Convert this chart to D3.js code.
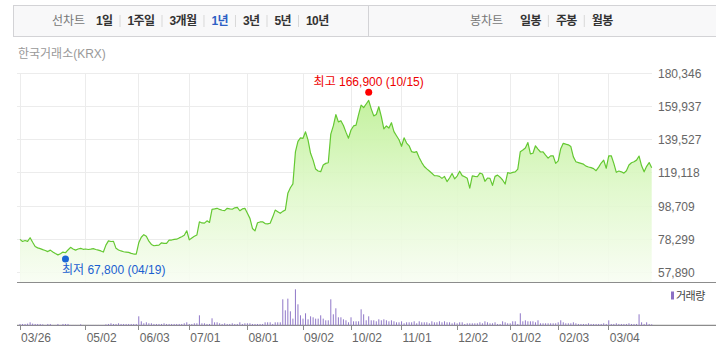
<!DOCTYPE html>
<html><head><meta charset="utf-8">
<script src="https://cdn.jsdelivr.net/npm/d3@7"></script>
<style>
body{margin:0;background:#fff;}
svg{display:block;font-family:"Liberation Sans","Noto Sans CJK KR",sans-serif;}
</style></head><body>
<svg id="c" width="716" height="360"></svg>
<script>
// ---- data ----
const closePrices = [
78300,77000,77600,77100,79300,76500,73900,73100,72600,72000,
71500,70800,71700,70600,69600,68800,69500,70500,70100,71800,
73400,72400,71700,72400,72800,72200,72400,72100,72300,72600,
72100,71700,71200,70500,74800,77400,77000,77100,72800,71800,
71200,70700,70500,70300,69700,69300,69300,76200,79600,81200,
80200,77200,75200,74400,74600,74800,76200,75900,75800,77800,
77900,78300,78400,79200,79900,80800,83600,78000,79200,80200,
81000,89100,88400,88300,89700,88700,96700,97000,97400,96700,
96200,96000,97400,97000,96800,97700,98000,95900,97000,97400,
94300,91200,85000,83500,88500,89000,89100,88000,87800,88200,
92000,96300,95300,94300,95500,96300,106600,110000,112400,132000,
138500,140700,140400,144400,139300,131200,127000,121500,120300,119900,
124000,125000,125400,143000,148000,155000,150500,151200,148300,144200,
140500,145500,148000,148500,155000,160800,159300,161500,163700,158500,
154200,155000,159800,153700,146200,148000,146700,150000,144500,142000,
139500,135500,140700,137500,135800,132200,131800,132200,128500,125500,
123100,121600,120300,118900,117500,117400,117000,115800,117000,113800,
116000,118800,115500,117200,120200,117500,116800,115800,109800,117300,
117000,116800,119000,118500,114000,116000,115800,111500,117000,117800,
116500,114800,112300,119300,118900,119500,119800,121500,132200,133200,
134500,137800,130800,131200,135800,133800,132000,132100,130100,128200,
129600,129700,125000,126500,134000,137300,136800,136400,135300,129000,
126000,125500,125000,124500,123300,122800,122400,121800,120500,122700,
125200,127000,122000,129600,129700,125000,119500,120300,119800,119000,
120500,124000,125400,126000,127000,129500,123500,119800,123200,125500,
122300];
const volumes = [
4,4,4,5,9,5,4,4,4,3,
1,4,4,1,1,4,1,4,4,4,
1,1,1,1,3,1,1,1,1,1,
1,1,1,1,3,4,6,4,4,6,
4,4,4,4,4,4,4,27,12,6,
9,6,6,4,4,4,4,6,4,4,
4,4,4,4,4,6,9,4,4,6,
6,30,6,6,4,4,21,9,9,6,
4,6,4,4,6,4,4,9,4,6,
6,6,4,4,4,4,4,9,9,9,
4,9,9,9,78,45,80,42,20,108,
63,30,20,36,18,27,24,20,20,30,
20,15,15,78,33,51,24,24,18,15,
9,24,12,12,12,48,33,15,27,15,
15,12,18,15,18,15,12,15,12,9,
9,12,6,9,9,9,12,6,12,9,
9,9,6,12,9,9,12,9,12,9,
9,6,9,6,9,9,4,6,6,6,
6,6,9,6,12,9,6,6,9,4,
4,12,9,6,6,12,12,4,36,12,
15,12,12,12,9,15,6,6,6,6,
6,6,6,9,15,9,6,6,6,9,
6,4,4,4,4,6,4,4,4,4,
4,6,4,15,4,4,6,4,4,4,
4,6,4,4,4,33,9,4,9,4,
3];
const yTickValues = [57890, 78299, 98709, 119118, 139527, 159937, 180346];
const xTickIndex = [0, 26, 47, 67, 90, 112, 131, 151, 173, 194, 213, 233];
const xTickLabels = ["03/26","05/02","06/03","07/01","08/01","09/02","10/02","11/01","12/02","01/02","02/03","03/04"];
const highMark = {index: 138, value: 166900, date: "10/15", label: "최고"};
const lowMark = {index: 18, value: 67800, date: "04/19", label: "최저"};
const lineTabs = ["1일","1주일","3개월","1년","3년","5년","10년"];
const candleTabs = ["일봉","주봉","월봉"];
const selectedTab = "1년";
const sourceLabel = "한국거래소(KRX)";
const volumeLabel = "거래량";

// ---- drawing ----
const svg = d3.select("#c");
const fmt = d3.format(",");
const plotL = 20, plotR = 651.7, plotT = 73.3, plotB = 282.3;
const volB = 325.3, volT = 285.3;

const x = d3.scaleLinear().domain([0, closePrices.length - 1]).range([plotL, plotR]);
const y = d3.scaleLinear().domain([yTickValues[0], yTickValues[yTickValues.length-1]]).range([272.6, plotT]);
const yv = d3.scaleLinear().domain([0, 120]).range([volB, volT]);

// tab bar
svg.append("rect").attr("x", 13.5).attr("y", 5.5).attr("width", 720).attr("height", 31)
  .attr("fill", "#f8f8f9").attr("stroke", "#d3d3d6");
svg.append("line").attr("x1", 368.5).attr("x2", 368.5).attr("y1", 6).attr("y2", 36).attr("stroke", "#d3d3d6");
const tabG = svg.append("g").attr("font-size", 12);
function drawTabs(title, titleX, items, startX) {
  tabG.append("text").attr("x", titleX).attr("y", 25).attr("fill", "#777").text(title);
  let cx = startX;
  items.forEach((t, i) => {
    const el = tabG.append("text").attr("x", cx).attr("y", 25).attr("font-weight", "bold")
      .attr("fill", t === selectedTab ? "#2d5fc4" : "#333").attr("letter-spacing", -0.6).text(t);
    const w = el.node().getComputedTextLength();
    cx += w;
    if (i < items.length - 1) {
      tabG.append("line").attr("x1", cx + 7.5).attr("x2", cx + 7.5).attr("y1", 15).attr("y2", 27).attr("stroke", "#d8d8d8");
      cx += 15;
    }
  });
}
drawTabs("선차트", 52, lineTabs, 96);
drawTabs("봉차트", 470, candleTabs, 520);

svg.append("text").attr("x", 18).attr("y", 58).attr("font-size", 12).attr("fill", "#999").text(sourceLabel);

// gridlines
const grid = svg.append("g").attr("stroke", "#ececec").attr("shape-rendering", "crispEdges");
grid.selectAll("line.h").data(yTickValues).join("line")
  .attr("x1", 17).attr("x2", plotR).attr("y1", d => y(d)).attr("y2", d => y(d));
grid.selectAll("line.v").data(xTickIndex).join("line")
  .attr("x1", d => x(d)).attr("x2", d => x(d)).attr("y1", plotT).attr("y2", plotB);

// gradient
const defs = svg.append("defs");
const grad = defs.append("linearGradient").attr("id", "g").attr("gradientUnits", "userSpaceOnUse")
  .attr("x1", 0).attr("x2", 0).attr("y1", 95).attr("y2", plotB);
grad.append("stop").attr("offset", 0).attr("stop-color", "#bff097").attr("stop-opacity", 0.95);
grad.append("stop").attr("offset", 0.5).attr("stop-color", "#def8c8").attr("stop-opacity", 0.9);
grad.append("stop").attr("offset", 1).attr("stop-color", "#f8fdf3").attr("stop-opacity", 0.9);

svg.append("path").datum(closePrices)
  .attr("d", d3.area().x((d, i) => x(i)).y0(plotB).y1(d => y(d)))
  .attr("fill", "url(#g)");
svg.append("path").datum(closePrices)
  .attr("d", d3.line().x((d, i) => x(i)).y(d => y(d)))
  .attr("fill", "none").attr("stroke", "#64c832").attr("stroke-width", 1.2).attr("stroke-linejoin", "round");

// y labels
svg.append("g").selectAll("text").data(yTickValues).join("text")
  .attr("x", 658).attr("y", d => y(d) + 4.5).attr("font-size", 12).attr("fill", "#666").text(d => fmt(d));

// axis lines
svg.append("line").attr("x1", 17).attr("x2", 716).attr("y1", plotB + 0.2).attr("y2", plotB + 0.2)
  .attr("stroke", "#8c8c8c").attr("stroke-width", 1.2);
svg.append("line").attr("x1", 17).attr("x2", 716).attr("y1", volB).attr("y2", volB)
  .attr("stroke", "#8c8c8c").attr("stroke-width", 1.2);

// volume bars
svg.append("g").selectAll("rect").data(volumes).join("rect")
  .attr("x", (d, i) => x(i) - 0.5).attr("width", 1)
  .attr("y", d => yv(d)).attr("height", d => volB - yv(d))
  .attr("fill", "#9078c8");

// x ticks and labels
const xt = svg.append("g");
xt.selectAll("line").data(xTickIndex).join("line")
  .attr("x1", d => x(d)).attr("x2", d => x(d)).attr("y1", volB).attr("y2", volB + 5)
  .attr("stroke", "#8c8c8c").attr("shape-rendering", "crispEdges");
xt.selectAll("text").data(xTickIndex).join("text")
  .attr("x", d => x(d) + 1).attr("y", 342).attr("font-size", 12).attr("fill", "#666")
  .text((d, i) => xTickLabels[i]);

// legend
svg.append("rect").attr("x", 671).attr("y", 291.5).attr("width", 3).attr("height", 8).attr("fill", "#8c70c4");
svg.append("text").attr("x", 676).attr("y", 299.5).attr("font-size", 11).attr("fill", "#444")
  .attr("letter-spacing", -0.5).text(volumeLabel);

// high / low markers
const hx = x(highMark.index), hy = y(highMark.value) - 3;
svg.append("circle").attr("cx", hx).attr("cy", hy).attr("r", 3.5).attr("fill", "#f00");
svg.append("text").attr("x", hx).attr("y", hy - 6.5).attr("text-anchor", "middle").attr("font-size", 12)
  .attr("fill", "#e00").text(`${highMark.label} ${fmt(highMark.value)} (${highMark.date})`);
const lx = x(lowMark.index), ly = y(lowMark.value) + 2.6;
svg.append("circle").attr("cx", lx).attr("cy", ly).attr("r", 3.5).attr("fill", "#1a66d6");
svg.append("text").attr("x", lx - 3.5).attr("y", ly + 15).attr("font-size", 12)
  .attr("fill", "#1a5fd0").text(`${lowMark.label} ${fmt(lowMark.value)} (${lowMark.date})`);
</script>
</body></html>
